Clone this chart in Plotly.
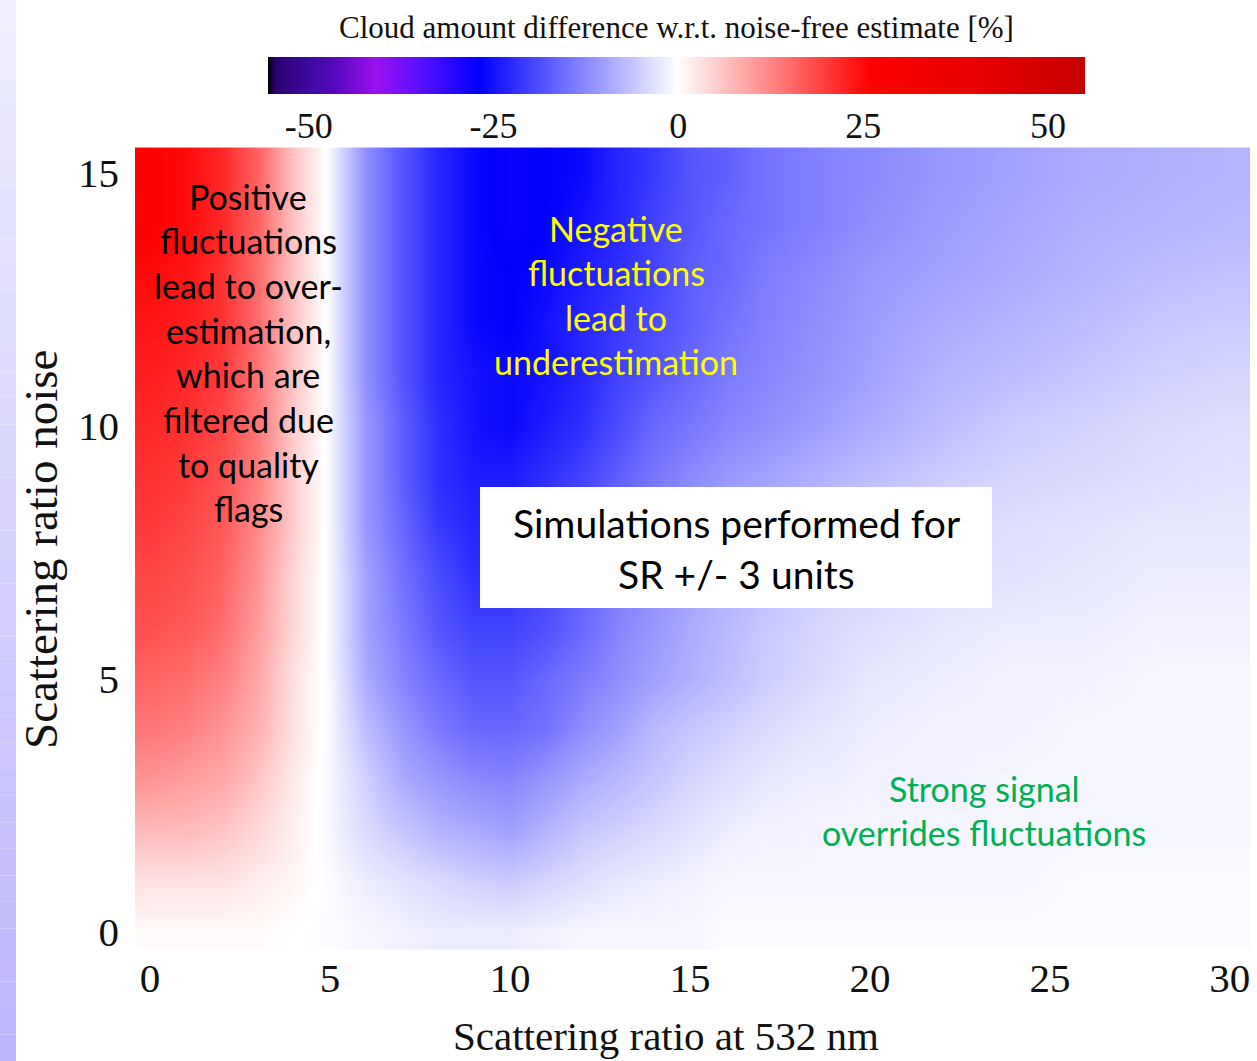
import plotly.graph_objects as go

# ---------------- data ----------------
sr_532 = [0, 1, 2, 3, 4, 5, 6, 7, 8, 9, 10, 11, 12, 13, 14, 15, 16, 17, 18, 19, 20, 22, 24, 26, 28, 30]
sr_noise = [0, 1, 2, 3, 4, 5, 6, 7, 8, 9, 10, 11, 12, 13, 14, 15]

diff_y00 = [0.5, 0.5, 0.5, 0.5, 0, -0.5, -1, -1.5, -2, -2, -2, -1.5, -1, -1, -1, -1, -0.5, -0.5, -0.5, -0.5, -0.5, -0.5, -0.5, -0.5, -0.5, -0.5]
diff_y01 = [3, 3, 3, 2, 1, -0.5, -2, -3, -4, -5, -5.5, -4.5, -3.5, -2.5, -2, -1.5, -1, -1, -1, -1, -1, -1, -1, -0.5, -0.5, -0.5]
diff_y02 = [7, 7, 6, 4, 1.5, -1, -4, -6, -8, -9, -10, -8, -6, -5, -4, -3, -2, -1.5, -1.5, -1, -1, -1, -1, -1, -1, -1]
diff_y03 = [11, 10, 9, 6, 2, -1, -5, -9, -11, -12.5, -13, -11, -9, -7.5, -6, -4.5, -3.5, -2.5, -2, -2, -1.5, -1.5, -1, -1, -1, -1]
diff_y04 = [14, 13, 11, 8, 3, -1, -7, -11, -14, -16, -16, -15, -12, -10, -7.5, -6, -5, -4, -3, -2.5, -2, -1.5, -1.5, -1, -1, -1]
diff_y05 = [16, 15, 13, 9, 3, -1, -9, -13, -16, -18, -18, -16, -14, -12, -10, -8.5, -7, -5.5, -4.5, -3.5, -2.5, -2, -1.5, -1.5, -1, -1]
diff_y06 = [18, 17, 15, 10, 4, -1, -10, -14, -18, -20, -20, -18.5, -16, -13, -11, -9, -7.5, -6, -5, -4, -3.5, -2.5, -2, -2, -1.5, -1.5]
diff_y07 = [19, 18, 16, 11, 4, -1, -10, -15, -19, -22, -22, -19.5, -16.5, -14, -12, -10, -8.5, -7, -6, -5, -4.5, -3.5, -3, -2.5, -2, -2]
diff_y08 = [20, 19, 17, 12, 5, -1, -11, -16, -21, -23, -23, -20, -18, -15, -13, -11, -9.5, -8, -7, -6, -5, -4, -3.5, -3, -2.5, -2.5]
diff_y09 = [21, 20, 18, 13, 5, -1, -11, -17, -22, -24, -24, -22, -20, -17, -14.5, -12.5, -11, -10, -9, -8, -7, -5.5, -4.5, -4, -3.5, -3]
diff_y10 = [22, 21, 19, 14, 5, -1, -11, -17, -22, -25, -26, -24, -22, -19, -16, -14.5, -13, -12, -11, -10, -9, -7, -5.5, -4.8, -4, -3.5]
diff_y11 = [23, 22, 20, 14, 6, -1, -12, -18, -23, -25, -26, -25, -23, -20, -18, -16, -14, -13, -12, -11, -10, -8, -7, -6, -5, -4.5]
diff_y12 = [24, 23, 21, 15, 6, -1, -12, -18, -23, -26, -27, -25, -23, -21, -19, -17, -15, -13.5, -12.5, -11.5, -10.5, -9, -8, -7, -6, -5.5]
diff_y13 = [25, 24, 21, 15, 6, -1, -12, -18, -23, -26, -27, -26, -24, -22, -20, -17, -16, -14, -13, -12, -11, -10, -9, -8, -7, -6.5]
diff_y14 = [26, 25, 22, 16, 6, -1, -12, -18, -23, -26, -28, -27, -25, -23, -20, -18, -16, -15, -14, -13, -12, -10.5, -9.5, -8.5, -8, -7.5]
diff_y15 = [26, 25, 22, 16, 6, -1, -12, -18, -23, -26, -28, -27, -26, -23, -21, -18, -17, -15, -14, -13, -12.5, -11, -10, -9, -8.5, -8]

cbar_ticks = [-50, -25, 0, 25, 50]
x_ticks = [0, 5, 10, 15, 20, 25, 30]
y_ticks = [0, 5, 10, 15]

cbar_title = "Cloud amount difference w.r.t. noise-free estimate [%]"
x_title = "Scattering ratio at 532 nm"
y_title = "Scattering ratio noise"

positive_lines = ["Positive", "fluctuations", "lead to over-", "estimation,", "which are",
                  "filtered due", "to quality", "flags"]
negative_lines = ["Negative", "fluctuations", "lead to", "underestimation"]
box_lines = ["Simulations performed for", "SR +/- 3 units"]
strong_lines = ["Strong signal", "overrides fluctuations"]

z = [diff_y00, diff_y01, diff_y02, diff_y03, diff_y04, diff_y05, diff_y06, diff_y07,
     diff_y08, diff_y09, diff_y10, diff_y11, diff_y12, diff_y13, diff_y14, diff_y15]

# ---------------- styling ----------------
W, H = 1257, 1061
ML, MR, MT, MB = 135, 7, 145, 111
PW, PH = W - ML - MR, H - MT - MB

def px(xp):
    return (xp - ML) / PW

def py(yp):
    return (H - MB - yp) / PH

colorscale = [
    [0.000, "#000000"],
    [0.009, "#2a0070"],
    [0.050, "#3c0a9e"],
    [0.086, "#5a08c0"],
    [0.131, "#9c10f0"],
    [0.186, "#5a10ff"],
    [0.258, "#0000ff"],
    [0.380, "#8080ff"],
    [0.502, "#ffffff"],
    [0.620, "#ff8080"],
    [0.738, "#ff0000"],
    [0.864, "#e80000"],
    [1.000, "#c80000"],
]

SERIF = "Liberation Serif, Times New Roman, serif"
SANS = "Lato, Open Sans, sans-serif"
INK = "#111111"

fig = go.Figure()
fig.add_trace(go.Heatmap(
    x=sr_532, y=sr_noise, z=z,
    zmin=-55.5, zmax=55,
    colorscale=colorscale,
    zsmooth="best",
    colorbar=dict(
        orientation="h",
        xref="paper", yref="container",
        x=px((268 + 1085) / 2), xanchor="center",
        y=1 - 22 / H, yanchor="top",
        len=1085 - 268, lenmode="pixels",
        thickness=37, thicknessmode="pixels",
        outlinewidth=0,
        ticks="",
        tickvals=cbar_ticks,
        ticktext=[str(v) for v in cbar_ticks],
        tickfont=dict(family=SERIF, size=36, color=INK),
        title=dict(text=cbar_title, side="top",
                   font=dict(family=SERIF, size=31, color=INK)),
        xpad=0, ypad=0,
    ),
))

fig.update_xaxes(
    range=[-0.42, 30.56],
    tickvals=x_ticks, ticks="", showgrid=False, zeroline=False, showline=False,
    tickfont=dict(family=SERIF, size=41, color=INK),
    automargin=False,
)
fig.update_yaxes(
    range=[-0.36, 15.55],
    tickvals=y_ticks, ticks="", showgrid=False, zeroline=False, showline=False,
    tickfont=dict(family=SERIF, size=41, color=INK),
    ticklabelstandoff=15,
    automargin=False,
)

shapes = []
# lavender strip at the left edge of the slide
n_band = 40
top_c = (238, 238, 255)
bot_c = (190, 182, 252)
for i in range(n_band):
    f = i / (n_band - 1)
    c = tuple(int(round(top_c[k] + (bot_c[k] - top_c[k]) * f)) for k in range(3))
    y0p = H * i / n_band
    y1p = H * (i + 1) / n_band
    shapes.append(dict(type="rect", xref="paper", yref="paper",
                       x0=px(0), x1=px(16), y0=py(y1p), y1=py(y0p),
                       fillcolor="rgb(%d,%d,%d)" % c, line=dict(width=0), layer="below"))
# white text box
shapes.append(dict(type="rect", xref="paper", yref="paper",
                   x0=px(480), x1=px(992), y0=py(608), y1=py(487),
                   fillcolor="white", line=dict(width=0), layer="above"))

annotations = []

def add_block(lines, xc, y_first, spacing, color, size):
    for i, t in enumerate(lines):
        annotations.append(dict(
            text=t, xref="paper", yref="paper",
            x=px(xc), y=py(y_first + i * spacing),
            xanchor="center", yanchor="middle", showarrow=False,
            font=dict(family=SANS, size=size, color=color)))

add_block(positive_lines, 248, 196, 44.7, "#000000", 34)
add_block(negative_lines, 616, 228, 44.5, "#ffff00", 34)
add_block(box_lines, 736, 523, 51, "#000000", 39)
add_block(strong_lines, 984, 788, 44.5, "#00b050", 34)

# axis titles
annotations.append(dict(text=x_title, xref="paper", yref="paper",
                        x=px(666), y=py(1036), xanchor="center", yanchor="middle",
                        showarrow=False, font=dict(family=SERIF, size=41, color=INK)))
annotations.append(dict(text=y_title, xref="paper", yref="paper",
                        x=px(41), y=py(550), xanchor="center", yanchor="middle",
                        textangle=-90, showarrow=False,
                        font=dict(family=SERIF, size=47, color=INK)))

fig.update_layout(
    width=W, height=H,
    margin=dict(l=ML, r=MR, t=MT, b=MB, pad=0),
    paper_bgcolor="white", plot_bgcolor="white",
    shapes=shapes, annotations=annotations,
    showlegend=False,
)

fig.write_html("out.html")
